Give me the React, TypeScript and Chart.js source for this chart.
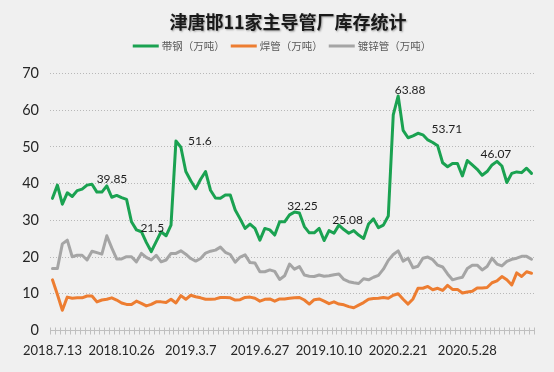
import React, { useEffect, useRef } from 'react';
import { Chart, registerables } from 'chart.js';

Chart.register(...registerables);

const chartTitle = '津唐邯11家主导管厂库存统计';
const seriesNames = ['带钢（万吨）', '焊管（万吨）', '镀锌管（万吨）'];
const tickLabels = ['2018.7.13', '2018.10.26', '2019.3.7', '2019.6.27', '2019.10.10', '2020.2.21', '2020.5.28'];
const tickIndices = [0, 14, 28, 42, 56, 70, 84];
const yTicks = [0, 10, 20, 30, 40, 50, 60, 70];

const stripSteel = [
  36.0, 39.6, 34.4, 37.5, 36.5, 38.1, 38.5, 39.6, 39.85, 37.7,
  37.7, 39.4, 36.3, 36.8, 36.2, 35.7, 29.6, 27.4, 26.9, 24.0,
  21.5, 24.2, 26.9, 25.8, 28.7, 51.6, 49.9, 43.3, 40.8, 38.6,
  41.2, 43.3, 38.2, 36.1, 36.0, 36.9, 36.9, 32.8, 30.4, 27.8,
  29.0, 27.8, 24.6, 27.8, 27.4, 26.0, 29.6, 29.6, 31.5, 32.25,
  32.0, 28.3, 26.6, 26.6, 27.8, 24.5, 27.2, 26.5, 28.7, 27.5,
  26.5, 27.2, 26.0, 25.08, 29.0, 30.4, 28.0, 28.7, 31.2, 58.7,
  63.88, 54.5, 52.5, 53.0, 53.71, 53.3, 51.9, 51.2, 50.3, 45.7,
  44.6, 45.5, 45.5, 42.1, 46.3, 45.1, 43.9, 42.3, 43.3, 45.1,
  46.07, 44.8, 40.3, 42.8, 43.2, 43.0, 44.2, 42.8,
];

const weldedPipe = [
  13.8, 9.8, 5.5, 9.1, 8.8, 8.9, 8.9, 9.4, 9.4, 7.8,
  8.3, 8.5, 8.9, 8.3, 7.5, 7.1, 7.1, 8.0, 7.4, 6.7,
  7.1, 7.8, 7.8, 7.6, 8.5, 7.5, 9.5, 8.5, 9.6, 9.2,
  8.9, 8.5, 8.5, 8.6, 9.0, 9.0, 8.9, 8.3, 8.4, 9.0,
  9.1, 8.8, 8.0, 8.5, 8.6, 8.0, 8.6, 8.6, 8.8, 8.9,
  9.0, 8.3, 7.2, 8.4, 8.6, 8.0, 7.3, 7.8, 7.2, 7.0,
  6.5, 6.2, 6.9, 7.6, 8.5, 8.7, 8.8, 9.0, 8.8, 9.6,
  10.0, 8.5, 7.2, 8.6, 11.5, 11.5, 12.0, 11.1, 11.5, 10.9,
  12.3, 11.2, 11.2, 10.2, 10.5, 10.7, 11.6, 11.6, 11.7, 13.0,
  13.5, 14.7, 13.8, 12.4, 15.7, 14.7, 16.0, 15.6,
];

const galvanizedPipe = [
  16.9, 16.9, 23.6, 24.6, 20.1, 20.5, 20.5, 19.2, 21.6, 21.2,
  20.8, 25.8, 22.5, 19.5, 19.5, 20.1, 20.1, 18.7, 21.0, 19.9,
  19.2, 20.5, 18.7, 19.2, 21.0, 21.0, 21.7, 20.8, 19.6, 18.9,
  19.6, 21.1, 21.6, 21.9, 22.7, 21.3, 20.7, 18.6, 20.0, 20.6,
  18.5, 18.4, 16.0, 16.0, 16.5, 16.1, 13.9, 14.9, 18.1, 16.7,
  17.4, 15.1, 14.8, 14.7, 15.1, 14.8, 14.9, 15.2, 15.4, 13.9,
  13.3, 13.0, 12.8, 14.1, 13.8, 14.5, 15.0, 16.7, 19.1, 20.7,
  21.7, 18.9, 19.7, 17.1, 17.5, 19.7, 20.0, 19.3, 17.8, 17.3,
  15.4, 13.8, 14.2, 14.5, 16.9, 17.8, 17.8, 16.5, 17.4, 19.7,
  18.1, 17.6, 18.8, 19.4, 19.7, 20.2, 20.2, 19.4,
];

// indices of the strip-steel points that carry a value label
const labelIndices = [8, 20, 25, 49, 63, 70, 74, 90];
// placement of those labels relative to their point (px)
const labelOffsets = [
  [20, -5], [1, -23], [24, 0], [8, -6], [-16, -18], [12, -6], [29, -4], [-1, -7],
];

const seriesColors = ['#1AA251', '#ED7D31', '#A5A5A5'];

const categories = stripSteel.map((_, i) => {
  const k = tickIndices.indexOf(i);
  return k >= 0 ? tickLabels[k] : '';
});

const BG = '#F0F0F0';

const bgPlugin = {
  id: 'bgFill',
  beforeDraw(chart: any) {
    const { ctx, width, height } = chart;
    ctx.save();
    ctx.fillStyle = BG;
    ctx.fillRect(0, 0, width, height);
    ctx.restore();
  },
};

const crossTicksPlugin = {
  id: 'crossTicks',
  afterDraw(chart: any) {
    const x = chart.scales.x;
    const y0 = chart.chartArea.bottom;
    const ctx = chart.ctx;
    const n = chart.data.labels.length;
    const step = x.getPixelForValue(1) - x.getPixelForValue(0);
    ctx.save();
    ctx.strokeStyle = '#BFBFBF';
    ctx.lineWidth = 1;
    ctx.beginPath();
    for (let i = 0; i <= n; i++) {
      const px = Math.round(x.getPixelForValue(0) + (i - 0.5) * step) + 0.5;
      ctx.moveTo(px, y0 - 3);
      ctx.lineTo(px, y0 + 4);
    }
    ctx.stroke();
    ctx.restore();
  },
};

const valueLabelPlugin = {
  id: 'valueLabels',
  afterDatasetsDraw(chart: any) {
    const ctx = chart.ctx;
    const meta = chart.getDatasetMeta(0);
    const data = chart.data.datasets[0].data;
    ctx.save();
    ctx.font = '12px Lato, "Liberation Sans", sans-serif';
    ctx.fillStyle = '#1E1E1E';
    ctx.textAlign = 'center';
    ctx.textBaseline = 'middle';
    labelIndices.forEach((idx, k) => {
      const pt = meta.data[idx];
      if (!pt) return;
      const [dx, dy] = labelOffsets[k];
      ctx.fillText(String(data[idx]), pt.x + dx, pt.y + dy);
    });
    ctx.restore();
  },
};

const headerPlugin = {
  id: 'header',
  afterDraw(chart: any) {
    const ctx = chart.ctx;
    const cx = chart.width / 2;
    ctx.save();
    ctx.font = 'bold 18px "Noto Sans CJK SC", sans-serif';
    ctx.textAlign = 'center';
    ctx.textBaseline = 'middle';
    ctx.shadowColor = 'rgba(0,0,0,0.35)';
    ctx.shadowOffsetX = 1;
    ctx.shadowOffsetY = 1;
    ctx.shadowBlur = 2;
    ctx.fillStyle = '#1A1A1A';
    ctx.fillText(chartTitle, cx + 11, 22);
    ctx.restore();

    ctx.save();
    ctx.font = '10.5px "Noto Sans CJK SC", sans-serif';
    ctx.textBaseline = 'middle';
    ctx.textAlign = 'left';
    const lineLen = 26;
    const gap = 3;
    const itemGap = 6;
    const ds = chart.data.datasets;
    const widths = ds.map((d: any) => lineLen + gap + ctx.measureText(d.label).width);
    const total = widths.reduce((a: number, b: number) => a + b, 0) + itemGap * (ds.length - 1);
    let x = cx + 5 - total / 2;
    const ly = 46;
    ds.forEach((d: any, i: number) => {
      ctx.strokeStyle = d.borderColor;
      ctx.lineWidth = 3;
      ctx.beginPath();
      ctx.moveTo(x, ly);
      ctx.lineTo(x + lineLen, ly);
      ctx.stroke();
      ctx.fillStyle = '#595959';
      ctx.fillText(d.label, x + lineLen + gap, ly);
      x += widths[i] + itemGap;
    });
    ctx.restore();
  },
};

export default function App() {
  const canvasRef = useRef<HTMLCanvasElement | null>(null);

  useEffect(() => {
    if (!canvasRef.current) return;
    const series = [stripSteel, weldedPipe, galvanizedPipe];
    const chart = new Chart(canvasRef.current, {
      type: 'line',
      data: {
        labels: categories,
        datasets: series.map((values, i) => ({
          label: seriesNames[i],
          data: values,
          borderColor: seriesColors[i],
          backgroundColor: seriesColors[i],
          borderWidth: 3,
          pointRadius: 0,
          pointHoverRadius: 0,
          tension: 0,
          borderJoinStyle: 'round' as const,
          borderCapStyle: 'round' as const,
          fill: false,
        })),
      },
      options: {
        responsive: false,
        animation: false,
        devicePixelRatio: 1,
        layout: { padding: { top: 73.5, left: 0, right: 20, bottom: 0 } },
        plugins: {
          legend: { display: false },
          title: { display: false },
          tooltip: { enabled: false },
        },
        scales: {
          x: {
            type: 'category',
            offset: true,
            grid: { display: false },
            border: { display: true, color: '#BFBFBF', width: 1 },
            ticks: {
              autoSkip: false,
              maxRotation: 0,
              minRotation: 0,
              padding: 5,
              color: '#262626',
              font: { family: 'Lato, "Liberation Sans", sans-serif', size: 13 },
            },
            afterFit(scale: any) {
              scale.height = 41.5;
            },
          },
          y: {
            min: 0,
            max: 70,
            afterBuildTicks(scale: any) {
              scale.ticks = yTicks.map((v) => ({ value: v }));
            },
            grid: {
              color: '#B8B8B8',
              lineWidth: 1,
              drawTicks: false,
            },
            border: { display: false, dash: [1, 2] },
            ticks: {
              padding: 11,
              color: '#262626',
              font: { family: 'Lato, "Liberation Sans", sans-serif', size: 14.5 },
            },
            afterFit(scale: any) {
              scale.width = 50;
            },
          },
        },
      },
      plugins: [bgPlugin, crossTicksPlugin, valueLabelPlugin, headerPlugin],
    });
    return () => chart.destroy();
  }, []);

  return (
    <div style={{ position: 'fixed', left: 0, top: 0, width: 554, height: 372, background: BG }}>
      <canvas ref={canvasRef} width={554} height={372} style={{ display: 'block' }} />
    </div>
  );
}
